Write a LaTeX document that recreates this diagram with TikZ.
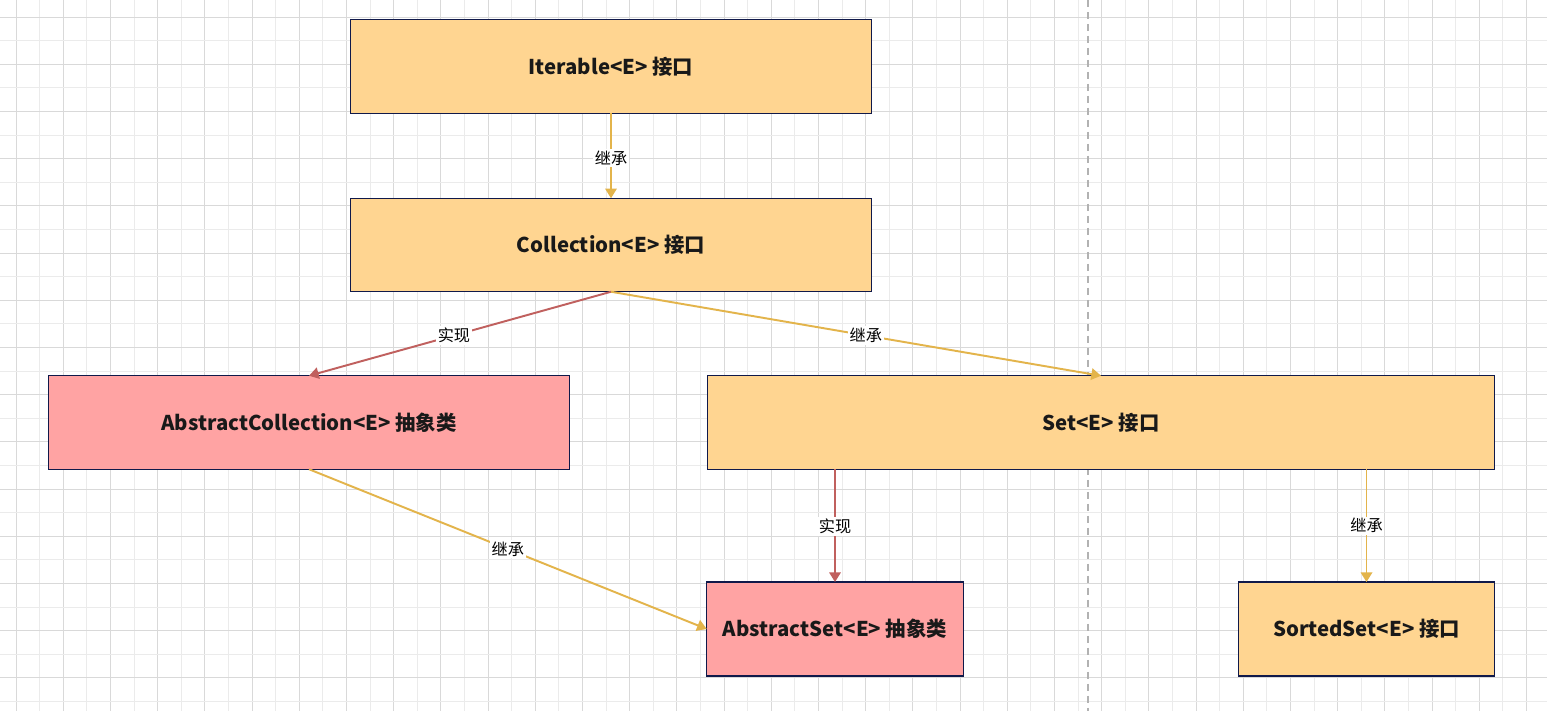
\documentclass[tikz,border=0pt]{standalone}
\usepackage{fontspec}
\setmainfont{Noto Sans CJK SC}
\usetikzlibrary{arrows.meta}
\definecolor{ifacefill}{HTML}{FFD591}
\definecolor{absfill}{HTML}{FFA3A3}
\definecolor{boxline}{HTML}{10194A}
\definecolor{inherit}{HTML}{E3B44B}
\definecolor{implement}{HTML}{C0605E}
\definecolor{griddark}{HTML}{D9D9D9}
\definecolor{gridlight}{HTML}{EBEBEB}
\begin{document}
\begin{tikzpicture}[x=0.02cm,y=-0.02cm,
  box/.style={draw=boxline,line width=0.6pt,inner sep=0pt,outer sep=0pt,
    font=\bfseries\fontsize{11.6}{14}\selectfont,text=black!90},
  iface/.style={box,fill=ifacefill},
  absclass/.style={box,fill=absfill},
  wide/.style={minimum width=10.44cm,minimum height=1.87cm},
  narrow/.style={minimum width=5.13cm,minimum height=1.88cm},
  lbl/.style={fill=white,inner sep=1pt,font=\fontsize{9.2}{10}\selectfont,text=black},
  link/.style={line width=1.1pt,-{Triangle[width=6.5pt,length=5.5pt]}},
  extends/.style={link,inherit},
  realizes/.style={link,implement}]
\useasboundingbox (0,0) rectangle (1547,711);
\fill[white] (0,0) rectangle (1547,711);
% grid
\begin{scope}
\clip (0,0) rectangle (1547,711);
\foreach \k in {0,...,32} {
  \draw[gridlight,line width=0.5pt] (39.6+47.2*\k,0) -- ++(0,711);
  \draw[griddark,line width=0.5pt] (16+47.2*\k,0) -- ++(0,711);
}
\foreach \k in {0,...,14} {
  \draw[gridlight,line width=0.5pt] (0,40.6+47.2*\k) -- ++(1547,0);
  \draw[griddark,line width=0.5pt] (0,17+47.2*\k) -- ++(1547,0);
}
\end{scope}
\draw[black!30,line width=0.6pt,dash pattern=on 0.14cm off 0.1cm] (1088,0) -- (1088,711);

% boxes
\node[iface,wide] (iter) at (611,66.5) {Iterable<E> 接口};
\node[iface,wide] (coll) at (611,245) {Collection<E> 接口};
\node[absclass,wide] (abscoll) at (309,422.5) {AbstractCollection<E> 抽象类};
\node[iface,minimum width=15.76cm,minimum height=1.87cm] (set) at (1101,422.5) {Set<E> 接口};
\node[absclass,narrow] (absset) at (835,629) {AbstractSet<E> 抽象类};
\node[iface,narrow] (sorted) at (1366.5,629) {SortedSet<E> 接口};

% links
\draw[extends] (iter) -- node[lbl,pos=0.53] {继承} (coll);
\draw[realizes] (coll.south) -- node[lbl,pos=0.52] {实现} (abscoll.north);
\draw[extends] (coll.south) -- node[lbl,pos=0.52] {继承} (set.north);
\draw[extends] (abscoll.south) -- node[lbl,pos=0.5] {继承} (absset.west);
\draw[realizes] (absset.north |- set.south) -- node[lbl,pos=0.51] {实现} (absset.north);
\draw[extends] (sorted.north |- set.south) -- node[lbl,pos=0.5] {继承} (sorted.north);
\end{tikzpicture}
\end{document}
